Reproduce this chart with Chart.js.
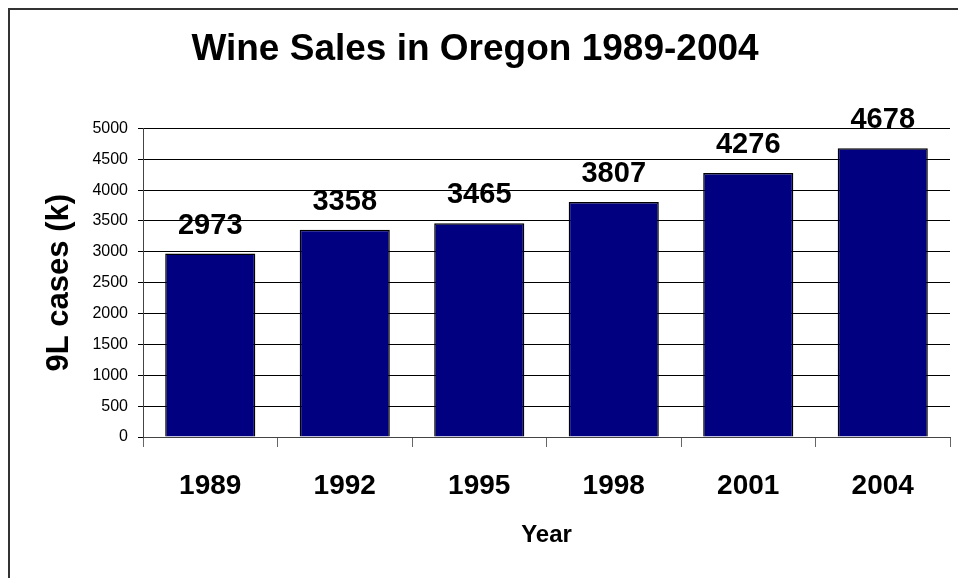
<!DOCTYPE html>
<html>
<head>
<meta charset="utf-8">
<script src="https://cdn.jsdelivr.net/npm/chart.js@4/dist/chart.umd.min.js"></script>
<style>
  html, body { margin: 0; padding: 0; background: #fff; }
  #wrap { width: 958px; height: 578px; }
</style>
</head>
<body>
<div id="wrap"><canvas id="c" width="958" height="578"></canvas></div>
<script>
const categories = ['1989', '1992', '1995', '1998', '2001', '2004'];
const salesValues = [2973, 3358, 3465, 3807, 4276, 4678];
const chartTitle = 'Wine Sales in Oregon 1989-2004';
const yAxisTitle = '9L cases (k)';
const xAxisTitle = 'Year';

const FONT = '"Liberation Sans", Arial, Helvetica, sans-serif';

const framePlugin = {
  id: 'frame',
  beforeDraw(chart) {
    const ctx = chart.ctx;
    ctx.save();
    ctx.fillStyle = '#ffffff';
    ctx.fillRect(0, 0, chart.width, chart.height);
    ctx.strokeStyle = '#333333';
    ctx.lineWidth = 2;
    ctx.beginPath();
    ctx.moveTo(9, chart.height);
    ctx.lineTo(9, 9);
    ctx.lineTo(chart.width, 9);
    ctx.stroke();
    ctx.restore();
  }
};

const valueLabelPlugin = {
  id: 'valueLabels',
  afterDatasetsDraw(chart) {
    const ctx = chart.ctx;
    const meta = chart.getDatasetMeta(0);
    ctx.save();
    ctx.font = 'bold 29px ' + FONT;
    ctx.fillStyle = '#000';
    ctx.textAlign = 'center';
    ctx.textBaseline = 'alphabetic';
    meta.data.forEach((bar, i) => {
      ctx.fillText(String(chart.data.datasets[0].data[i]), bar.x, bar.y - 20);
    });
    ctx.restore();
  }
};

new Chart(document.getElementById('c'), {
  type: 'bar',
  data: {
    labels: categories,
    datasets: [{
      data: salesValues,
      backgroundColor: '#000080',
      borderColor: '#000000',
      borderWidth: 1.5,
      categoryPercentage: 1.0,
      barPercentage: 0.67
    }]
  },
  options: {
    responsive: false,
    animation: false,
    layout: { padding: { left: 0, right: 8, top: 0, bottom: 0 } },
    plugins: {
      legend: { display: false },
      tooltip: { enabled: false },
      title: {
        display: true,
        text: chartTitle,
        color: '#000',
        font: { family: FONT, size: 37, weight: 'bold' },
        padding: { top: 28, bottom: 56 }
      }
    },
    scales: {
      x: {
        offset: true,
        border: { display: true, color: '#444', width: 1 },
        grid: { display: true, drawOnChartArea: false, drawTicks: true, tickLength: 10, color: '#666', offset: true },
        ticks: { color: '#000', padding: 22, font: { family: FONT, size: 28, weight: 'bold' } },
        title: {
          display: true, text: xAxisTitle, color: '#000',
          font: { family: FONT, size: 24, weight: 'bold' },
          padding: { top: 0, bottom: 28 }
        },
        afterFit(scale) { scale.height = 141; }
      },
      y: {
        min: 0, max: 5000,
        border: { display: true, color: '#444', width: 1 },
        grid: { color: '#000', lineWidth: 1, tickLength: 5, drawTicks: true },
        ticks: {
          stepSize: 500, color: '#000', padding: 10,
          font: { family: FONT, size: 16 },
          callback: (v) => String(v)
        },
        title: {
          display: true, text: yAxisTitle, color: '#000',
          font: { family: FONT, size: 31, weight: 'bold' },
          padding: { top: 41, bottom: 0 }
        },
        afterFit(scale) { scale.width = 143; }
      }
    }
  },
  plugins: [framePlugin, valueLabelPlugin]
});
</script>
</body>
</html>
